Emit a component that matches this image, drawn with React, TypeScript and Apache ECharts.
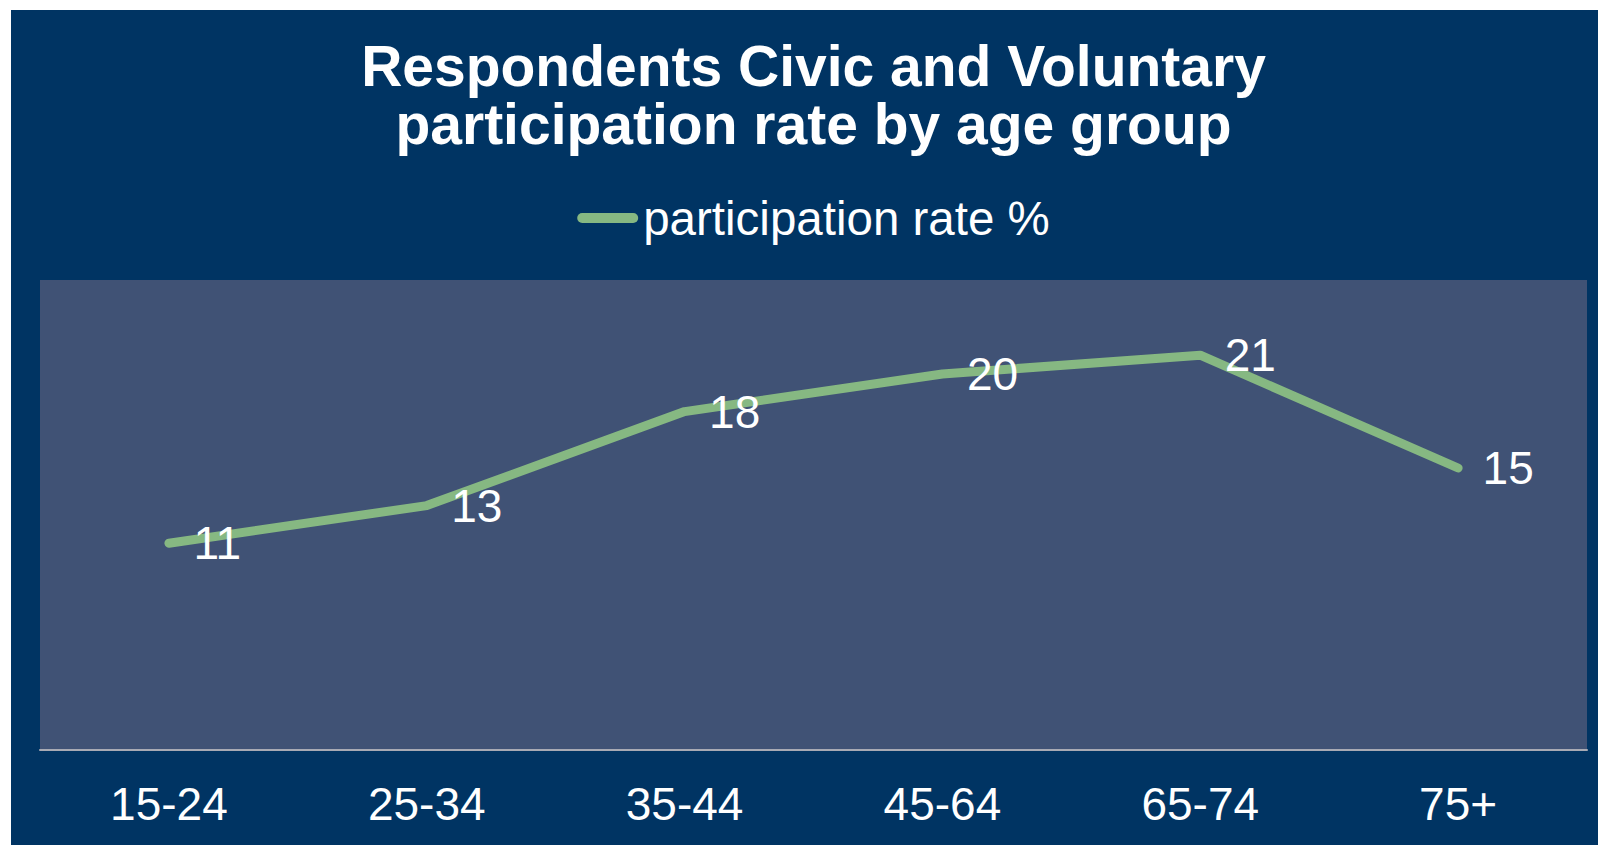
import React, { useEffect, useRef } from "react";
import * as echarts from "echarts";

const categories = ["15-24", "25-34", "35-44", "45-64", "65-74", "75+"];
const participationRate = [11, 13, 18, 20, 21, 15];
const seriesName = "participation rate %";
const titleText = "Respondents Civic and Voluntary\nparticipation rate by age group";

export default function App() {
  const ref = useRef<HTMLDivElement>(null);

  useEffect(() => {
    if (!ref.current) return;
    const chart = echarts.init(ref.current, undefined, { renderer: "svg" });
    const font = "Liberation Sans, Arial, Helvetica, sans-serif";
    chart.setOption({
      animation: false,
      backgroundColor: "#003463",
      title: {
        text: titleText,
        left: "center",
        top: 27,
        padding: 0,
        textStyle: {
          color: "#ffffff",
          fontSize: 57,
          fontWeight: "bold",
          fontFamily: font,
          lineHeight: 58,
        },
      },
      legend: {
        data: [seriesName],
        left: "center",
        top: 184,
        padding: 0,
        itemWidth: 61,
        itemHeight: 10,
        icon: "path://M5 0H56A5 5 0 0 1 56 10H5A5 5 0 0 1 5 0Z",
        itemStyle: { color: "#86B882", opacity: 1, borderWidth: 0 },
        textStyle: { color: "#ffffff", fontSize: 47.5, fontFamily: font },
      },
      grid: {
        left: 29,
        right: 29,
        top: 270,
        height: 470,
        show: true,
        backgroundColor: "#405275",
        borderWidth: 0,
        containLabel: false,
      },
      xAxis: {
        type: "category",
        data: categories,
        boundaryGap: true,
        axisLine: { show: true, lineStyle: { color: "#A8AAB4", width: 2 } },
        axisTick: { show: false },
        axisLabel: {
          color: "#ffffff",
          fontSize: 46,
          fontFamily: font,
          margin: 31,
          interval: 0,
        },
        splitLine: { show: false },
      },
      yAxis: {
        type: "value",
        min: 0,
        max: 25,
        show: false,
        splitLine: { show: false },
      },
      series: [
        {
          name: seriesName,
          type: "line",
          data: participationRate,
          symbol: "circle",
          symbolSize: 1,
          showSymbol: true,
          itemStyle: { color: "#86B882", opacity: 0 },
          lineStyle: { color: "#86B882", width: 9, cap: "round", join: "round" },
          label: {
            show: true,
            position: "right",
            distance: 24,
            color: "#ffffff",
            fontSize: 46,
            fontFamily: font,
            opacity: 1,
          },
          emphasis: { disabled: true },
        },
      ],
    });
    return () => chart.dispose();
  }, []);

  return (
    <div
      style={{
        position: "absolute",
        left: 11,
        top: 10,
        width: 1587,
        height: 835,
        overflow: "hidden",
      }}
    >
      <div ref={ref} style={{ width: 1605, height: 845 }} />
    </div>
  );
}
